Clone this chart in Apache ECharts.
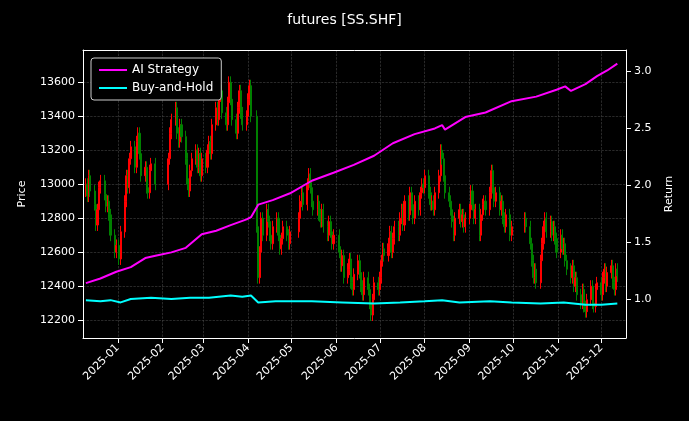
<!DOCTYPE html>
<html><head><meta charset="utf-8">
<script src="https://cdn.jsdelivr.net/npm/echarts@6/dist/echarts.min.js"></script>
<style>html,body{margin:0;background:#000}#c{width:689px;height:421px}</style>
</head><body><div id="c"></div>
<script>
const holidays = ['2025-01-01','2025-01-28','2025-01-29','2025-01-30','2025-01-31','2025-02-03','2025-02-04','2025-04-04','2025-05-01','2025-05-02','2025-05-05','2025-06-02','2025-10-01','2025-10-02','2025-10-03','2025-10-06','2025-10-07','2025-10-08'];
const closeDec24 = [13000,12930,13050,12960,12880,12760,12850,12980,13020,12940,12870,12900,12820,12700,12600,12640];
const closeJan = [12560,12720,12900,13050,12980,13150,13220,13100,13250,13300,13180,13050,13100,12980,12950,13080,13120,13000];
const closeFeb = [13150,13300,13380,13450,13300,13250,13350,13280,13150,13000,12960,13080,13150,13200,13100,13180,13050,13150];
const closeMar = [13100,13200,13250,13180,13350,13450,13380,13520,13550,13420,13350,13480,13600,13500,13380,13300,13450,13550,13420,13350,13400];
const closeApr = [13500,13580,13400,12750,12450,12600,12800,12700,12850,12780,12700,12650,12750,12800,12700,12620,12680,12750,12700,12650,12720];
const closeMay = [12800,12900,12950,12880,13000,13060,12980,12900,12850,12900,12820,12780,12850,12750,12700,12780,12720,12650,12700];
const closeJun = [12600,12520,12580,12450,12500,12560,12420,12380,12470,12550,12480,12400,12350,12450,12380,12300,12230,12320,12420,12380];
const closeJul = [12450,12550,12620,12580,12650,12720,12600,12680,12750,12700,12800,12850,12760,12900,12820,12950,12880,12800,12900,12850,12950,13000,12980];
const closeAug = [13050,12950,12880,12900,12850,12950,13050,13200,13150,13050,12950,12900,12850,12780,12700,12800,12850,12780,12820,12750,12800];
const closeSep = [12850,12960,12880,12800,12850,12700,12820,12880,12900,12850,12950,13080,12980,12900,12950,12850,12900,12800,12750,12820,12700,12750];
const closeOct = [12800,12750,12650,12550,12450,12500,12420,12550,12650,12750,12800,12720,12780,12700,12750,12680,12600];
const closeNov = [12700,12620,12650,12550,12500,12450,12520,12400,12450,12350,12300,12380,12280,12250,12320,12400,12300,12280,12380,12420];
const closeDec25 = [12350,12450,12500,12400,12480,12520,12420,12380,12500,12460];
const strategy = [['2024-12-10',1.14],['2024-12-20',1.18],['2024-12-31',1.24],['2025-01-10',1.28],['2025-01-20',1.36],['2025-01-27',1.38],['2025-02-07',1.41],['2025-02-17',1.45],['2025-02-28',1.57],['2025-03-10',1.60],['2025-03-20',1.65],['2025-03-31',1.70],['2025-04-03',1.72],['2025-04-08',1.83],['2025-04-18',1.87],['2025-04-30',1.93],['2025-05-15',2.04],['2025-05-30',2.11],['2025-06-13',2.18],['2025-06-27',2.26],['2025-07-10',2.37],['2025-07-25',2.45],['2025-08-08',2.50],['2025-08-13',2.53],['2025-08-15',2.49],['2025-08-29',2.60],['2025-09-12',2.64],['2025-09-30',2.74],['2025-10-17',2.78],['2025-10-31',2.84],['2025-11-06',2.87],['2025-11-10',2.83],['2025-11-20',2.89],['2025-11-28',2.96],['2025-12-05',3.01],['2025-12-12',3.07]];
const buyHold = [['2024-12-10',0.99],['2024-12-20',0.98],['2024-12-27',0.99],['2025-01-03',0.97],['2025-01-10',1.00],['2025-01-24',1.01],['2025-02-07',1.00],['2025-02-20',1.01],['2025-03-05',1.01],['2025-03-20',1.03],['2025-03-28',1.02],['2025-04-03',1.03],['2025-04-08',0.97],['2025-04-20',0.98],['2025-05-15',0.98],['2025-06-05',0.97],['2025-06-27',0.96],['2025-07-15',0.97],['2025-08-01',0.98],['2025-08-13',0.99],['2025-08-25',0.97],['2025-09-15',0.98],['2025-09-30',0.97],['2025-10-20',0.96],['2025-11-05',0.97],['2025-11-20',0.95],['2025-12-01',0.95],['2025-12-12',0.96]];
const monthTicks = ['2025-01','2025-02','2025-03','2025-04','2025-05','2025-06','2025-07','2025-08','2025-09','2025-10','2025-11','2025-12'];

const byMonth = {'2024-12':closeDec24,'2025-01':closeJan,'2025-02':closeFeb,'2025-03':closeMar,'2025-04':closeApr,'2025-05':closeMay,'2025-06':closeJun,'2025-07':closeJul,'2025-08':closeAug,'2025-09':closeSep,'2025-10':closeOct,'2025-11':closeNov,'2025-12':closeDec25};
const pad=n=>String(n).padStart(2,'0');
const ts=s=>Date.parse(s+'T00:00:00Z');
const candles=[]; const idx={};
let prev=null;
for(let t=Date.UTC(2024,11,10); t<=Date.UTC(2025,11,12); t+=86400000){
  const d=new Date(t); const wd=d.getUTCDay(); if(wd===0||wd===6) continue;
  const s=d.getUTCFullYear()+'-'+pad(d.getUTCMonth()+1)+'-'+pad(d.getUTCDate());
  if(holidays.includes(s)) continue;
  const m=s.slice(0,7); idx[m]=(idx[m]||0); const arr=byMonth[m];
  if(!arr||idx[m]>=arr.length) continue;
  const c=arr[idx[m]++]; const o=prev===null?c-40:prev;
  candles.push([t,o,c,Math.min(o,c)-35,Math.max(o,c)+35]); prev=c;
}
const tickVals=monthTicks.map(m=>ts(m+'-01'));
const chart=echarts.init(document.getElementById('c'));
const font='DejaVu Sans';
const xMin=ts('2024-12-08'), xMax=ts('2025-12-18');
chart.setOption({
  backgroundColor:'#000',
  animation:false,
  textStyle:{fontFamily:font},
  title:{text:'futures [SS.SHF]',left:'center',top:8,textStyle:{color:'#fff',fontSize:14,fontWeight:'normal',fontFamily:font}},
  legend:{data:['AI Strategy','Buy-and-Hold'],orient:'vertical',left:91,top:58,padding:[6,8],itemGap:6,itemWidth:28,itemHeight:2,icon:'rect',
    backgroundColor:'#000',borderColor:'#ccc',borderWidth:1,borderRadius:3,textStyle:{color:'#fff',fontSize:12,fontFamily:font}},
  grid:{left:83,right:63,top:50,bottom:83},
  xAxis:[{type:'value',min:xMin,max:xMax,
    axisLine:{show:true,onZero:false,lineStyle:{color:'#fff'}},
    axisTick:{show:true,customValues:tickVals,lineStyle:{color:'#fff'}},
    axisLabel:{customValues:tickVals,formatter:v=>{const d=new Date(v);return d.getUTCFullYear()+'-'+pad(d.getUTCMonth()+1);},rotate:45,color:'#fff',fontSize:11,fontFamily:font},
    splitLine:{show:true,lineStyle:{color:'#444',type:'dashed',width:0.6}}},
    {type:'value',position:'top',min:xMin,max:xMax,axisLine:{show:true,onZero:false,lineStyle:{color:'#fff'}},axisTick:{show:false},axisLabel:{show:false},splitLine:{show:false}}],
  yAxis:[
    {type:'value',min:12095,max:13790,splitNumber:8,name:'Price',nameLocation:'middle',nameGap:55,nameTextStyle:{color:'#fff',fontSize:11,fontFamily:font},
     axisLine:{show:true,lineStyle:{color:'#fff'}},axisTick:{show:true},axisLabel:{color:'#fff',fontSize:11,showMinLabel:false,showMaxLabel:false,formatter:v=>String(v),fontFamily:font},
     splitLine:{show:true,lineStyle:{color:'#444',type:'dashed',width:0.6}}},
    {type:'value',min:0.657,max:3.19,splitNumber:5,name:'Return',nameLocation:'middle',nameGap:38,nameTextStyle:{color:'#fff',fontSize:11,fontFamily:font},
     axisLine:{show:true,lineStyle:{color:'#fff'}},axisTick:{show:true},axisLabel:{color:'#fff',fontSize:11,showMinLabel:false,showMaxLabel:false,formatter:v=>v.toFixed(1),fontFamily:font},
     splitLine:{show:false}}
  ],
  series:[
    {type:'candlestick',data:candles,yAxisIndex:0,barWidth:1.6,
     itemStyle:{color:'#ff0000',color0:'#008000',borderColor:'#ff0000',borderColor0:'#008000',borderWidth:1}},
    {name:'AI Strategy',type:'line',yAxisIndex:1,data:strategy.map(p=>[ts(p[0]),p[1]]),showSymbol:false,lineStyle:{color:'#ff00ff',width:2},itemStyle:{color:'#ff00ff'}},
    {name:'Buy-and-Hold',type:'line',yAxisIndex:1,data:buyHold.map(p=>[ts(p[0]),p[1]]),showSymbol:false,lineStyle:{color:'#00ffff',width:2},itemStyle:{color:'#00ffff'}}
  ]
});
</script></body></html>
